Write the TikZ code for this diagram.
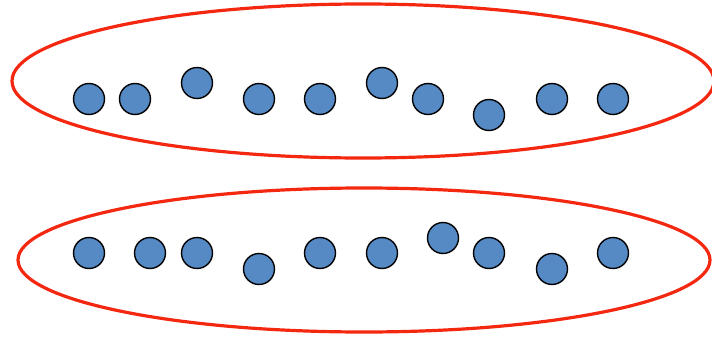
\documentclass[tikz,border=0pt]{standalone}
\usepackage{tikz}

\definecolor{ringred}{RGB}{244,40,16}
\definecolor{dotblue}{RGB}{86,138,196}

\begin{document}
\begin{tikzpicture}[x=1pt, y=1pt, node distance={61pt}, dot/.style = {draw=black, fill=dotblue, circle, line width=1.4pt, minimum size=31pt, inner sep=0pt}, ring/.style = {draw=ringred, line width=3.2pt}]
                    \useasboundingbox (0,0) rectangle (712,341);
                    \draw[ring] (363,260) ellipse (351 and 77);
                    \draw[ring] (364,81) ellipse (346 and 72);
                    % top group
                    \node[dot] (t1) at (89,242) {};
                    \node[dot] (t2) [right of=t1, node distance=46pt] {};
                    \node[dot] (t3) [right of=t2, node distance=62pt, yshift=16pt] {};
                    \node[dot] (t4) [right of=t3, node distance=62pt, yshift=-16pt] {};
                    \node[dot] (t5) [right of=t4] {};
                    \node[dot] (t6) [right of=t5, node distance=62pt, yshift=16pt] {};
                    \node[dot] (t7) [right of=t6, node distance=46pt, yshift=-16pt] {};
                    \node[dot] (t8) [right of=t7, yshift=-16pt] {};
                    \node[dot] (t9) [right of=t8, node distance=63pt, yshift=16pt] {};
                    \node[dot] (t10) [right of=t9] {};
                    % bottom group
                    \node[dot] (b1) at (89,88) {};
                    \node[dot] (b2) [right of=b1] {};
                    \node[dot] (b3) [right of=b2, node distance=47pt] {};
                    \node[dot] (b4) [right of=b3, node distance=62pt, yshift=-16pt] {};
                    \node[dot] (b5) [right of=b4, yshift=16pt] {};
                    \node[dot] (b6) [right of=b5, node distance=62pt] {};
                    \node[dot] (b7) [right of=b6, yshift=15pt] {};
                    \node[dot] (b8) [right of=b7, node distance=46pt, yshift=-15pt] {};
                    \node[dot] (b9) [right of=b8, node distance=63pt, yshift=-16pt] {};
                    \node[dot] (b10) [right of=b9, yshift=16pt] {};
                \end{tikzpicture}
\end{document}
